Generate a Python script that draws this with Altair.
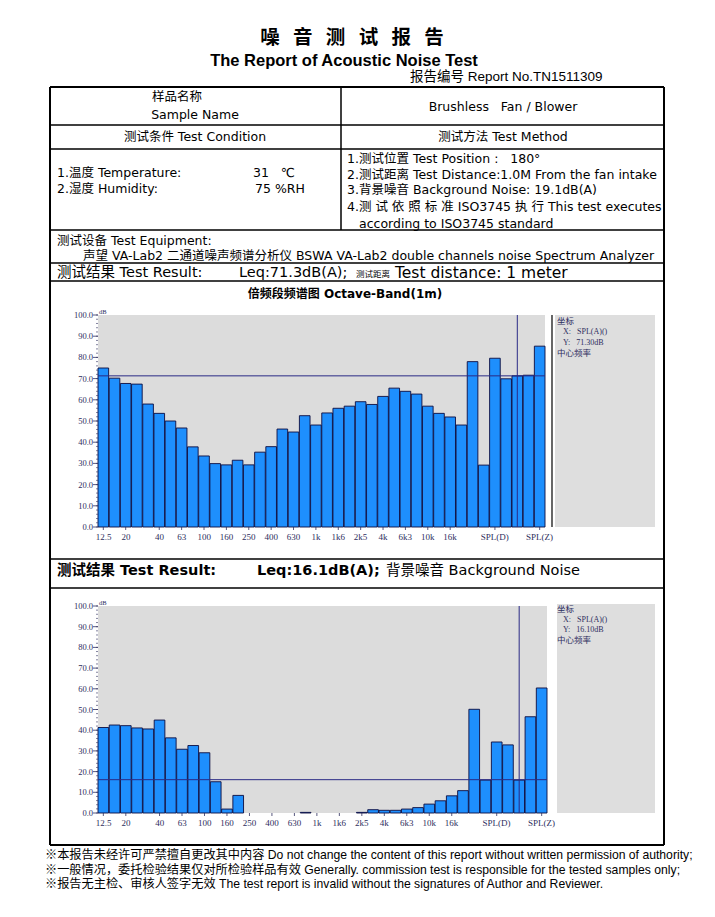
import altair as alt
import pandas as pd

# ---------------- data ----------------
BANDS = ["12.5", "16", "20", "25", "31.5", "40", "50", "63", "80", "100",
         "125", "160", "200", "250", "315", "400", "500", "630", "800", "1k",
         "1k25", "1k6", "2k", "2k5", "3k15", "4k", "5k", "6k3", "8k", "10k",
         "12k5", "16k", "20k", "ext1", "ext2", "SPL(D)", "ext3", "SPL(A)", "ext4", "SPL(Z)"]
TICK_LABELS = ["12.5", "20", "40", "63", "100", "160", "250", "400", "630", "1k",
               "1k6", "2k5", "4k", "6k3", "10k", "16k", "SPL(D)", "SPL(Z)"]
TEST_DB = [75.0, 70.2, 67.7, 67.4, 58.0, 53.6, 50.0, 46.7, 37.8, 33.5,
           29.9, 29.3, 31.5, 29.3, 35.3, 37.9, 46.2, 44.8, 52.5, 48.1,
           53.8, 56.0, 57.0, 59.1, 57.8, 61.6, 65.5, 64.0, 62.7, 57.0,
           53.6, 51.9, 48.1, 78.0, 29.2, 79.6, 69.9, 71.3, 71.6, 85.3]
BG_DB = [41.3, 42.5, 42.2, 41.1, 40.6, 44.9, 36.3, 30.8, 32.6, 29.1,
         15.1, 1.9, 8.5, 0, 0, 0, 0, 0, 0.3, 0,
         0, 0, 0, 0.3, 1.6, 1.3, 1.3, 1.9, 2.6, 4.3,
         5.9, 8.3, 10.8, 50.1, 15.9, 34.3, 32.9, 15.9, 46.5, 60.4]
Y_TICKS = [0, 10, 20, 30, 40, 50, 60, 70, 80, 90, 100]
Y_MINOR = list(range(0, 101, 2))
LEQ_TEST = 71.3
LEQ_BG = 16.1
CURSOR = "SPL(A)"

# ---------------- styles ----------------
W, H = 699, 901
SANS_V = "DejaVu Sans, Noto Sans CJK SC"
SANS_T = "Liberation Sans, Noto Sans CJK SC"
SERIF = "Liberation Serif, Noto Sans CJK SC"
CJK = "Noto Sans CJK SC"
AXIS_C = "#2e2e5e"
NAVY = "#2a2a86"
NB = "\u00a0"

BASE = alt.Data(values=[{"k": 0}])


def px(v):
    return v - 8


def T(s, x, y, size=12.5, font=SANS_V, weight="normal", align="left", color="#000000"):
    return alt.Chart(BASE).mark_text(
        text=s, font=font, fontSize=size, fontWeight=weight, align=align,
        baseline="middle", color=color
    ).encode(x=alt.value(px(x)), y=alt.value(px(y)))


def R(x1, y1, x2, y2, w=1.5, color="#000000"):
    return alt.Chart(BASE).mark_rule(color=color, strokeWidth=w).encode(
        x=alt.value(px(x1)), y=alt.value(px(y1)), x2=alt.value(px(x2)), y2=alt.value(px(y2)))


def BOX(x1, y1, x2, y2, fill):
    return alt.Chart(BASE).mark_rect(fill=fill).encode(
        x=alt.value(px(x1)), y=alt.value(px(y1)), x2=alt.value(px(x2)), y2=alt.value(px(y2)))


def spectrum(values, leq, x0, x1, y0, y1):
    xs = alt.Scale(domain=BANDS, range=[px(x0), px(x1)], paddingInner=0.05, paddingOuter=0)
    ys = alt.Scale(domain=[0, 100], range=[px(y1), px(y0)])
    df = pd.DataFrame({"band": BANDS, "db": values})
    layers = []
    layers.append(BOX(x0, y0, x1, y1, "#dcdcdc"))
    layers.append(
        alt.Chart(df).transform_filter("datum.db > 0").mark_bar(
            fill="#1e8ffd", stroke="#0c0c40", strokeWidth=0.9
        ).encode(x=alt.X("band:N", scale=xs, axis=None),
                 y=alt.Y("db:Q", scale=ys, axis=None))
    )
    layers.append(
        alt.Chart(pd.DataFrame({"leq": [leq]})).mark_rule(color=NAVY, strokeWidth=1).encode(
            y=alt.Y("leq:Q", scale=ys, axis=None), x=alt.value(px(x0)), x2=alt.value(px(x1)))
    )
    layers.append(
        alt.Chart(pd.DataFrame({"band": [CURSOR]})).mark_rule(color=NAVY, strokeWidth=1).encode(
            x=alt.X("band:N", scale=xs, axis=None, bandPosition=0.5),
            y=alt.value(px(y0)), y2=alt.value(px(y1)))
    )
    tl = pd.DataFrame({"band": TICK_LABELS})
    layers.append(
        alt.Chart(tl).mark_text(font=SERIF, fontSize=9, color=AXIS_C, baseline="middle").encode(
            x=alt.X("band:N", scale=xs, axis=None, bandPosition=0.5),
            y=alt.value(px(y1 + 10)), text="band:N")
    )
    layers.append(
        alt.Chart(tl).mark_rule(color=AXIS_C, strokeWidth=0.8).encode(
            x=alt.X("band:N", scale=xs, axis=None, bandPosition=0.5),
            y=alt.value(px(y1)), y2=alt.value(px(y1 + 3)))
    )
    yt = pd.DataFrame({"t": Y_TICKS})
    layers.append(
        alt.Chart(yt).mark_text(font=SERIF, fontSize=8.5, color=AXIS_C, align="right",
                                baseline="middle").encode(
            x=alt.value(px(x0 - 5)), y=alt.Y("t:Q", scale=ys, axis=None),
            text=alt.Text("t:Q", format=".1f"))
    )
    layers.append(
        alt.Chart(yt).mark_rule(color=AXIS_C, strokeWidth=0.8).encode(
            x=alt.value(px(x0 - 5)), x2=alt.value(px(x0)), y=alt.Y("t:Q", scale=ys, axis=None))
    )
    layers.append(
        alt.Chart(pd.DataFrame({"t": Y_MINOR})).mark_rule(color=AXIS_C, strokeWidth=0.6).encode(
            x=alt.value(px(x0 - 2)), x2=alt.value(px(x0)), y=alt.Y("t:Q", scale=ys, axis=None))
    )
    layers.append(T("dB", x0 + 1, y0 - 3, size=6.5, font=SERIF, color=AXIS_C))
    return layers


def panel(lines, x, ys):
    out = []
    for (s, dx, sz), yy in zip(lines, ys):
        out.append(T(s, x + dx, yy, size=sz, font=SERIF, color=AXIS_C))
    return out


layers = []

# Header
SP3 = NB * 3
layers.append(T(SP3.join(["噪", "音", "测", "试", "报", "告"]), 352, 38, size=19.5, font=CJK,
                weight="bold", align="center"))
layers.append(T("The Report of Acoustic Noise Test", 344, 61, size=16.5, font=SANS_T,
                weight="bold", align="center"))
layers.append(T("报告编号 Report No.TN1511309", 410, 77, size=13.5, font=SANS_T))

# Table text
layers.append(T("样品名称", 177, 97, align="center"))
layers.append(T("Sample Name", 195, 115, align="center"))
layers.append(T("Brushless" + NB * 3 + "Fan / Blower", 503, 107, align="center"))
layers.append(T("测试条件 Test Condition", 195, 137, align="center"))
layers.append(T("测试方法 Test Method", 503, 137, align="center"))
layers.append(T("1.温度 Temperature:", 57, 173))
layers.append(T("31" + NB * 3 + "℃", 253, 173))
layers.append(T("2.湿度 Humidity:", 57, 189))
layers.append(T("75 %RH", 255, 189))
layers.append(T("1.测试位置 Test Position :" + NB * 3 + "180°", 347, 159))
layers.append(T("2.测试距离 Test Distance:1.0M From the fan intake", 347, 175))
layers.append(T("3.背景噪音 Background Noise: 19.1dB(A)", 347, 190))
layers.append(T("4." + NB.join("测试依照标准") + " ISO3745 " + "执" + NB + "行"
                + " This test executes", 347, 207))
layers.append(T("according to ISO3745 standard", 359, 224))
layers.append(T("测试设备 Test Equipment:", 57, 241))
layers.append(T("声望 VA-Lab2 二通道噪声频谱分析仪 BSWA VA-Lab2 double channels noise Spectrum Analyzer",
                83, 256))
layers.append(T("测试结果 Test Result:", 57, 273, size=14.5))
layers.append(T("Leq:71.3dB(A);", 239, 273, size=14.5))
layers.append(T("测试距离", 356, 274, size=8.5))
layers.append(T("Test distance: 1 meter", 395, 273, size=15.5))
layers.append(T("倍频段频谱图  Octave-Band(1m)", 345, 294, size=12, weight="bold", align="center"))

# Chart 1
layers += spectrum(TEST_DB, LEQ_TEST, 98, 545, 315, 527)
layers.append(R(552, 315, 552, 527, w=1.2))
layers.append(BOX(555, 315, 655, 527, "#dedede"))
layers += panel([("坐标", 0, 8.5), ("X:" + NB * 3 + "SPL(A)()", 6, 8), ("Y:" + NB * 3 + "71.30dB", 6, 8),
                 ("中心频率", 0, 8.5)], 557, [321, 332, 343, 353])

# Background row
layers.append(T("测试结果 Test Result:", 57, 571, size=14.5, weight="bold"))
layers.append(T("Leq:16.1dB(A);", 257, 571, size=14.5, weight="bold"))
layers.append(T("背景噪音 Background Noise", 386, 571, size=14.5))

# Chart 2
layers += spectrum(BG_DB, LEQ_BG, 98, 547, 606, 813)
layers.append(BOX(557, 604, 655, 813, "#dedede"))
layers += panel([("坐标", 0, 8.5), ("X:" + NB * 3 + "SPL(A)()", 6, 8), ("Y:" + NB * 3 + "16.10dB", 6, 8),
                 ("中心频率", 0, 8.5)], 557, [609, 620, 630, 640])

# Table lines
L, RT, TOP, BOT = 50, 664, 87, 845
for yy in [125, 149, 230, 263, 281, 559, 588]:
    layers.append(R(L, yy, RT, yy, w=1.5))
layers.append(R(341, TOP, 341, 230, w=1.5))
layers.append(R(L, TOP, RT, TOP, w=2))
layers.append(R(L, BOT, RT, BOT, w=2))
layers.append(R(L, TOP, L, BOT, w=2))
layers.append(R(RT, TOP, RT, BOT, w=2))

# Footer
layers.append(T("※本报告未经许可严禁擅自更改其中内容 Do not change the content of this report without written permission of authority;",
                45, 855, size=12.2, font=SANS_T))
layers.append(T("※一般情况，委托检验结果仅对所检验样品有效 Generally. commission test is responsible for the tested samples only;",
                45, 870, size=12.2, font=SANS_T))
layers.append(T("※报告无主检、审核人签字无效 The test report is invalid without the signatures of Author and Reviewer.",
                45, 884, size=12.2, font=SANS_T))

chart = alt.layer(*layers).resolve_scale(x="independent", y="independent").properties(
    width=W, height=H, padding=0, autosize=alt.AutoSizeParams(type="none")
).configure_view(stroke=None)

chart.save("out.html", embed_options={"renderer": "svg", "actions": False})
